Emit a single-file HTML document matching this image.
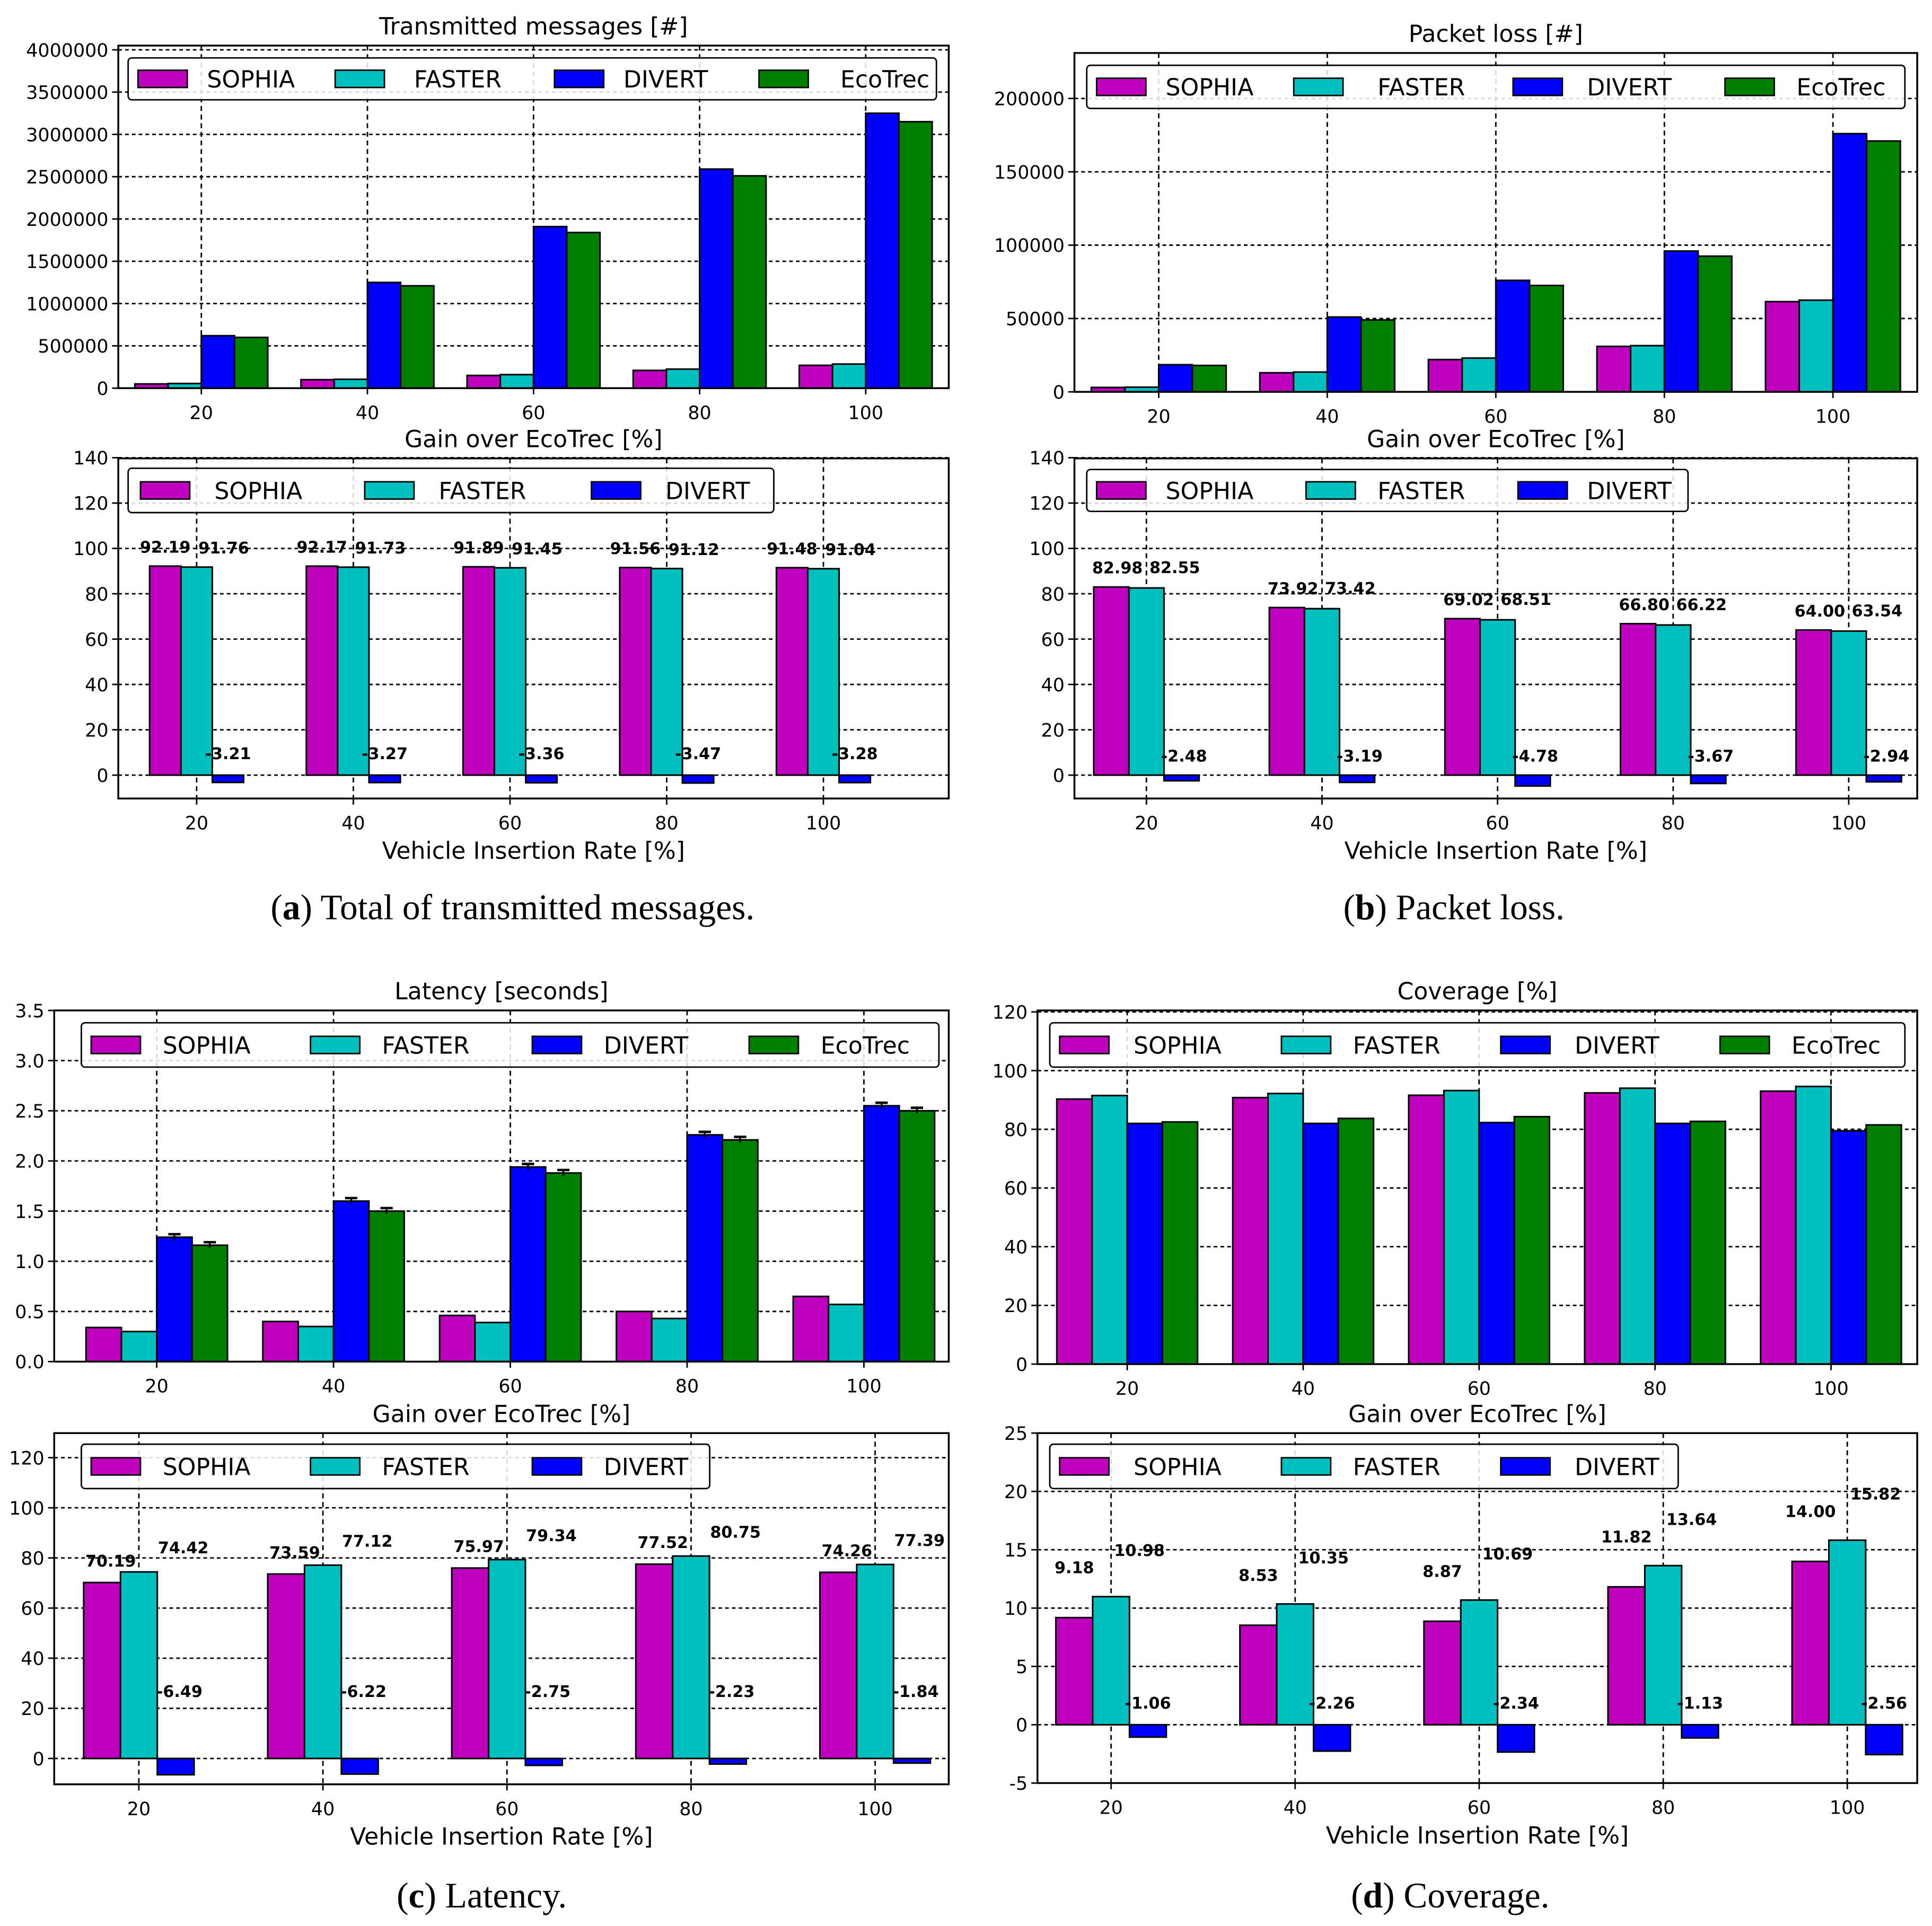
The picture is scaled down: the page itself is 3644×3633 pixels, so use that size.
<!DOCTYPE html>
<html><head><meta charset="utf-8"><title>Vehicle Insertion Rate charts</title>
<style>
html,body{margin:0;padding:0;background:#fff;}
svg{display:block;}
text{font-family:"DejaVu Sans","Liberation Sans",sans-serif;fill:#000;}
.cap{font-family:"Liberation Serif",serif;}
</style></head>
<body>
<svg id="fig" xmlns="http://www.w3.org/2000/svg" width="3644" height="3633" viewBox="0 0 1568 1563" preserveAspectRatio="none">
<rect x="0" y="0" width="1568" height="1563" fill="#fff"/>
<text class="cap" x="416" y="746" font-size="29" text-anchor="middle">(<tspan font-weight="bold">a</tspan>) Total of transmitted messages.</text>
<text class="cap" x="1180" y="746" font-size="29" text-anchor="middle">(<tspan font-weight="bold">b</tspan>) Packet loss.</text>
<text class="cap" x="391" y="1548" font-size="29" text-anchor="middle">(<tspan font-weight="bold">c</tspan>) Latency.</text>
<text class="cap" x="1177" y="1548" font-size="29" text-anchor="middle">(<tspan font-weight="bold">d</tspan>) Coverage.</text>
</svg>
<script>
const categories = ["20","40","60","80","100"];
const seriesNames4 = ["SOPHIA","FASTER","DIVERT","EcoTrec"];
const seriesNames3 = ["SOPHIA","FASTER","DIVERT"];
const colors = ["#bf00bf","#00bfbf","#0000ff","#008000"];

const txSophia = [50000,100000,150000,210000,270000];
const txFaster = [55000,105000,160000,225000,285000];
const txDivert = [620000,1250000,1910000,2590000,3250000];
const txEco = [600000,1210000,1840000,2510000,3150000];
const txTicks = [0,500000,1000000,1500000,2000000,2500000,3000000,3500000,4000000];

const gainA_Sophia = [92.19,92.17,91.89,91.56,91.48];
const gainA_Faster = [91.76,91.73,91.45,91.12,91.04];
const gainA_Divert = [-3.21,-3.27,-3.36,-3.47,-3.28];

const plSophia = [3000,13000,22000,31000,61500];
const plFaster = [3200,13500,23000,31500,62500];
const plDivert = [18500,51000,76000,96000,176000];
const plEco = [18000,49000,72500,92500,171000];
const plTicks = [0,50000,100000,150000,200000];

const gainB_Sophia = [82.98,73.92,69.02,66.80,64.00];
const gainB_Faster = [82.55,73.42,68.51,66.22,63.54];
const gainB_Divert = [-2.48,-3.19,-4.78,-3.67,-2.94];

const latSophia = [0.34,0.40,0.46,0.50,0.65];
const latFaster = [0.30,0.35,0.39,0.43,0.57];
const latDivert = [1.24,1.60,1.94,2.26,2.55];
const latEco = [1.16,1.50,1.88,2.21,2.50];
const latDivertErr = [0.03,0.03,0.03,0.03,0.03];
const latEcoErr = [0.03,0.03,0.03,0.03,0.03];
const latTicks = [0,0.5,1,1.5,2,2.5,3,3.5];

const gainC_Sophia = [70.19,73.59,75.97,77.52,74.26];
const gainC_Faster = [74.42,77.12,79.34,80.75,77.39];
const gainC_Divert = [-6.49,-6.22,-2.75,-2.23,-1.84];

const covSophia = [90.3,90.8,91.6,92.4,93.0];
const covFaster = [91.5,92.2,93.2,94.0,94.6];
const covDivert = [82.0,82.0,82.3,82.0,79.5];
const covEco = [82.5,83.7,84.3,82.7,81.5];
const covTicks = [0,20,40,60,80,100,120];

const gainD_Sophia = [9.18,8.53,8.87,11.82,14.00];
const gainD_Faster = [10.98,10.35,10.69,13.64,15.82];
const gainD_Divert = [-1.06,-2.26,-2.34,-1.13,-2.56];
const gainTicks140 = [0,20,40,60,80,100,120,140];
const gainTicks120 = [0,20,40,60,80,100,120];
const gainTicksD = [-5,0,5,10,15,20,25];

const NS = "http://www.w3.org/2000/svg";
const svg = document.getElementById("fig");
function mk(tag, attrs, parent){
  const e = document.createElementNS(NS, tag);
  for (const k in attrs) e.setAttribute(k, attrs[k]);
  (parent||svg).appendChild(e);
  return e;
}

function panel(c){
  const g = mk("g", {});
  
  
  const xs = v => c.x0 + (v - c.xlim[0]) / (c.xlim[1]-c.xlim[0]) * (c.x1 - c.x0);
  const ys = v => c.y1 - (v - c.ylim[0]) / (c.ylim[1]-c.ylim[0]) * (c.y1 - c.y0);
  c.yticks.forEach(t => {
    const y = ys(t);
    const l = mk("line", {x1:c.x0, x2:c.x1, y1:y, y2:y, stroke:"#000", "stroke-width":1.2, "stroke-dasharray":"3,2.5"}, g);
    
    
    mk("line", {x1:c.x0-5, x2:c.x0, y1:y, y2:y, stroke:"#000", "stroke-width":1.2}, g);
    const tx = mk("text", {x:c.x0-8, y:y+5.5, "font-size":15, "text-anchor":"end"}, g);
    
    
    tx.textContent = c.fmt ? c.fmt(t) : String(t);
  });
  categories.forEach((cat, i) => {
    const x = xs(i);
    const l = mk("line", {x1:x, x2:x, y1:c.y0, y2:c.y1, stroke:"#000", "stroke-width":1.2, "stroke-dasharray":"4,3"}, g);
    
    
    mk("line", {x1:x, x2:x, y1:c.y1, y2:c.y1+5, stroke:"#000", "stroke-width":1.2}, g);
    const tx = mk("text", {x:x, y:c.y1+25, "font-size":15, "text-anchor":"middle"}, g);
    
    
    tx.textContent = cat;
  });
  const n = c.series.length, w = 0.2;
  const zero = ys(Math.max(0, c.ylim[0]));
  c.series.forEach((vals, s) => {
    const off = c.centered ? (s - (n-1)/2) * w : (s - 1) * w;
    vals.forEach((v, i) => {
      const xc = i + off;
      const xa = xs(xc - w/2), xb = xs(xc + w/2);
      const yv = ys(v);
      const r = mk("rect", {x:xa, y:Math.min(yv,zero), width:xb-xa, height:Math.abs(zero-yv), fill:colors[s], stroke:"#000", "stroke-width":1.3}, g);
      
      
      if (c.errs && c.errs[s]) {
        const e = c.errs[s][i], xm = xs(xc);
        mk("line", {x1:xm, x2:xm, y1:ys(v+e), y2:ys(v-e), stroke:"#000", "stroke-width":1.5}, g);
        mk("line", {x1:xm-5, x2:xm+5, y1:ys(v+e), y2:ys(v+e), stroke:"#000", "stroke-width":2}, g);
      }
      if (c.labels) {
        const lo = c.labels[s];
        const t = mk("text", {x:xs(xc)+lo[0], y:ys(Math.max(v,0))+lo[1], "font-size":13, "font-weight":"bold", "text-anchor":"middle"}, g);
        
        
        t.textContent = v.toFixed(2);
      }
    });
  });
  mk("rect", {x:c.x0, y:c.y0, width:c.x1-c.x0, height:c.y1-c.y0, fill:"none", stroke:"#000", "stroke-width":1.5}, g);
  const tt = mk("text", {x:(c.x0+c.x1)/2, y:c.y0-9, "font-size":19, "text-anchor":"middle"}, g);
  
  
  tt.textContent = c.title;
  if (c.xlabel) {
    const xl = mk("text", {x:(c.x0+c.x1)/2, y:c.y1+49, "font-size":19, "text-anchor":"middle"}, g);
    
    
    xl.textContent = c.xlabel;
  }
  const L = c.legend;
  const lg = mk("g", {}, g);
  
  
  mk("rect", {x:L[0], y:L[1], width:L[2]-L[0], height:L[3]-L[1], fill:"#fff", "fill-opacity":0.85, stroke:"#000", "stroke-width":1.2, rx:3}, lg);
  const my = (L[1]+L[3])/2;
  c.names.forEach((nm, s) => {
    const px = c.lpatch[s];
    const en = mk("g", {}, lg);
    
    
    mk("rect", {x:px, y:my-7, width:40, height:14, fill:colors[s], stroke:"#000", "stroke-width":1.2}, en);
    const t = mk("text", {x:c.ltext[s], y:my+7, "font-size":19, "text-anchor":"start"}, en);
    t.textContent = nm;
  });
}

panel({name:"chart-transmitted-messages", x0:96, x1:770, y0:37, y1:315, xlim:[-0.5,4.5], ylim:[0,4050000], yticks:txTicks,
  series:[txSophia,txFaster,txDivert,txEco], names:seriesNames4, centered:true, title:"Transmitted messages [#]", legend:[104,47,760,81],
  lpatch:[112,272,450,616], ltext:[168,336,506,682]});
panel({name:"chart-gain-transmitted", x0:96, x1:770, y0:372, y1:648, xlim:[-0.5,4.8], ylim:[-10.3,139.7], yticks:gainTicks140,
  series:[gainA_Sophia,gainA_Faster,gainA_Divert], names:seriesNames3, centered:false, title:"Gain over EcoTrec [%]", xlabel:"Vehicle Insertion Rate [%]",
  legend:[104,380,628,416], labels:[[0,-11],[22,-11],[0,-13]], lpatch:[114,296,480], ltext:[174,356,540]});
panel({name:"chart-packet-loss", x0:872, x1:1556, y0:43, y1:318, xlim:[-0.5,4.5], ylim:[0,231000], yticks:plTicks,
  series:[plSophia,plFaster,plDivert,plEco], names:seriesNames4, centered:true, title:"Packet loss [#]", legend:[882,53,1546,88],
  lpatch:[890,1050,1228,1400], ltext:[946,1118,1288,1458]});
panel({name:"chart-gain-packet-loss", x0:872, x1:1556, y0:372, y1:648, xlim:[-0.41,4.39], ylim:[-10.3,139.7], yticks:gainTicks140,
  series:[gainB_Sophia,gainB_Faster,gainB_Divert], names:seriesNames3, centered:false, title:"Gain over EcoTrec [%]", xlabel:"Vehicle Insertion Rate [%]",
  legend:[882,381,1370,415], labels:[[5,-11],[23,-12],[2,-11]], lpatch:[890,1060,1232], ltext:[946,1118,1288]});
panel({name:"chart-latency", x0:44, x1:770, y0:820, y1:1105, xlim:[-0.58,4.48], ylim:[0,3.5], yticks:latTicks, fmt:v=>v.toFixed(1),
  series:[latSophia,latFaster,latDivert,latEco], errs:[null,null,latDivertErr,latEcoErr], names:seriesNames4, centered:true, title:"Latency [seconds]", legend:[66,830,762,866],
  lpatch:[74,252,432,608], ltext:[132,310,490,666]});
panel({name:"chart-gain-latency", x0:44, x1:770, y0:1163, y1:1448, xlim:[-0.46,4.4], ylim:[-10.3,129.8], yticks:gainTicks120,
  series:[gainC_Sophia,gainC_Faster,gainC_Divert], names:seriesNames3, centered:false, title:"Gain over EcoTrec [%]", xlabel:"Vehicle Insertion Rate [%]",
  legend:[66,1172,576,1208], labels:[[7,-13],[36,-15],[3,-50]], lpatch:[74,252,432], ltext:[132,310,490]});
panel({name:"chart-coverage", x0:842, x1:1556, y0:820, y1:1107, xlim:[-0.51,4.49], ylim:[0,120.5], yticks:covTicks,
  series:[covSophia,covFaster,covDivert,covEco], names:seriesNames4, centered:true, title:"Coverage [%]", legend:[852,830,1546,866],
  lpatch:[860,1040,1218,1396], ltext:[920,1098,1278,1454]});
panel({name:"chart-gain-coverage", x0:842, x1:1556, y0:1163, y1:1447, xlim:[-0.4,4.38], ylim:[-5,25], yticks:gainTicksD,
  series:[gainD_Sophia,gainD_Faster,gainD_Divert], names:seriesNames3, centered:false, title:"Gain over EcoTrec [%]", xlabel:"Vehicle Insertion Rate [%]",
  legend:[852,1172,1362,1208], labels:[[0,-36],[23,-33],[0,-13]], lpatch:[860,1040,1218], ltext:[920,1098,1278]});
</script>
</body></html>
